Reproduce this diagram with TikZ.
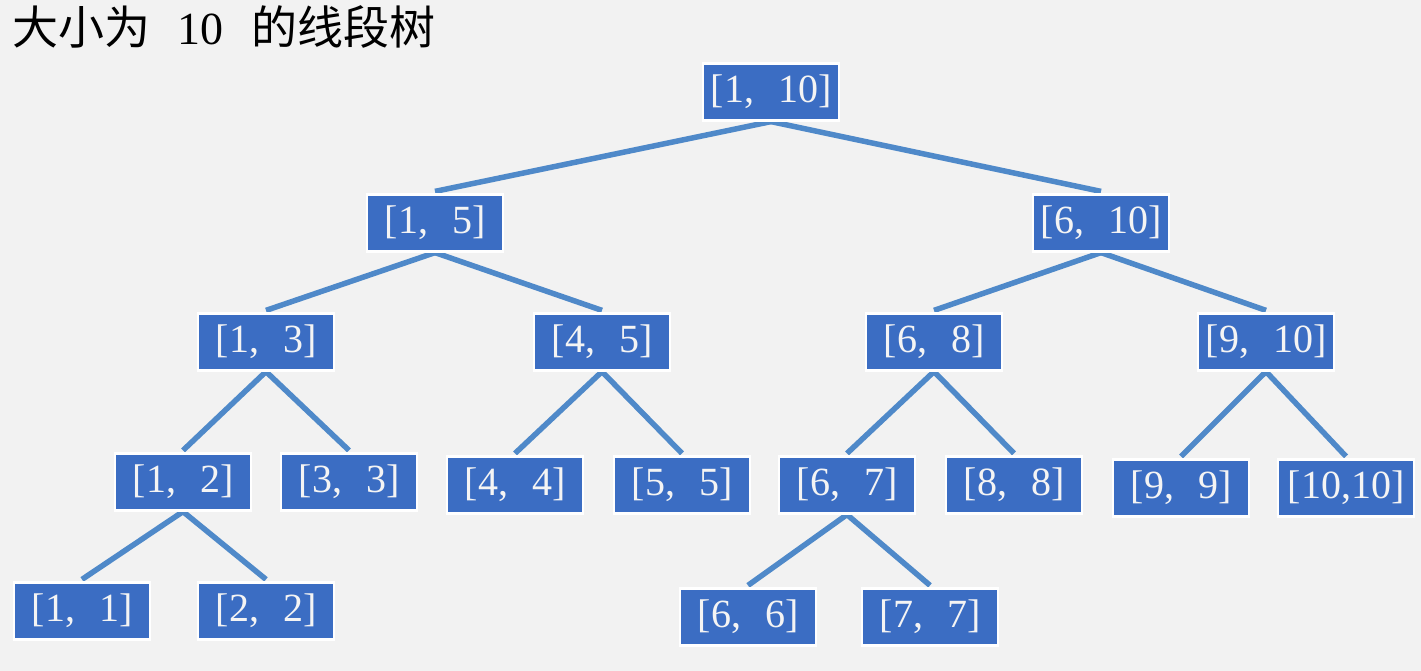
\documentclass[tikz,border=0pt]{standalone}
\usepackage{fontspec}
\setmainfont{Liberation Serif}
\newfontfamily\cjk{Noto Sans CJK SC}
\usetikzlibrary{backgrounds}
\definecolor{bgc}{HTML}{F2F2F2}
\definecolor{boxblue}{HTML}{3B6DC3}
\definecolor{edgeblue}{HTML}{4F89C9}
\definecolor{txtc}{HTML}{F4F4F4}
\tikzset{
  seg/.style={draw=white, line width=2.2pt, fill=boxblue, text=txtc,
    font=\fontsize{40}{44}\selectfont, minimum width=136pt, minimum height=57pt, inner sep=0pt},
  link/.style={draw=edgeblue, line width=5.5pt}
}
\newcommand{\iv}[2]{[#1,\hspace{0.6em}#2]}
\begin{document}
\begin{tikzpicture}[x=1pt,y=-1pt]
\useasboundingbox (0,0) rectangle (1421,671);
\node[anchor=base west, inner sep=0pt, font=\fontsize{46}{50}\selectfont] (title) at (12,45)
  {{\cjk 大小为}\hspace{0.6em}10\hspace{0.6em}{\cjk 的线段树}};
\node[seg] (n110) at (771,92) {\iv{1}{10}};
\node[seg] (n15) at (435,223) {\iv{1}{5}};
\node[seg] (n610) at (1101,223) {\iv{6}{10}};
\node[seg] (n13) at (266,342) {\iv{1}{3}};
\node[seg] (n45) at (602,342) {\iv{4}{5}};
\node[seg] (n68) at (934,342) {\iv{6}{8}};
\node[seg] (n910) at (1266,342) {\iv{9}{10}};
\node[seg] (n12) at (183,482) {\iv{1}{2}};
\node[seg] (n33) at (349,482) {\iv{3}{3}};
\node[seg] (n44) at (515,485) {\iv{4}{4}};
\node[seg] (n55) at (682,485) {\iv{5}{5}};
\node[seg] (n67) at (847,485) {\iv{6}{7}};
\node[seg] (n88) at (1014,485) {\iv{8}{8}};
\node[seg] (n99) at (1181,488) {\iv{9}{9}};
\node[seg] (n1010) at (1346,488) {[10,10]};
\node[seg] (n11) at (82,611) {\iv{1}{1}};
\node[seg] (n22) at (266,611) {\iv{2}{2}};
\node[seg] (n66) at (748,617) {\iv{6}{6}};
\node[seg] (n77) at (930,617) {\iv{7}{7}};
\begin{scope}[on background layer]
\fill[bgc] (0,0) rectangle (1421,671);
\foreach \p/\c in {n110/n15,n110/n610,n15/n13,n15/n45,n610/n68,n610/n910,
  n13/n12,n13/n33,n45/n44,n45/n55,n68/n67,n68/n88,n910/n99,n910/n1010,
  n12/n11,n12/n22,n67/n66,n67/n77}
  \draw[link] (\p.south) -- ([yshift=2pt]\c.north);
\end{scope}
\end{tikzpicture}
\end{document}
